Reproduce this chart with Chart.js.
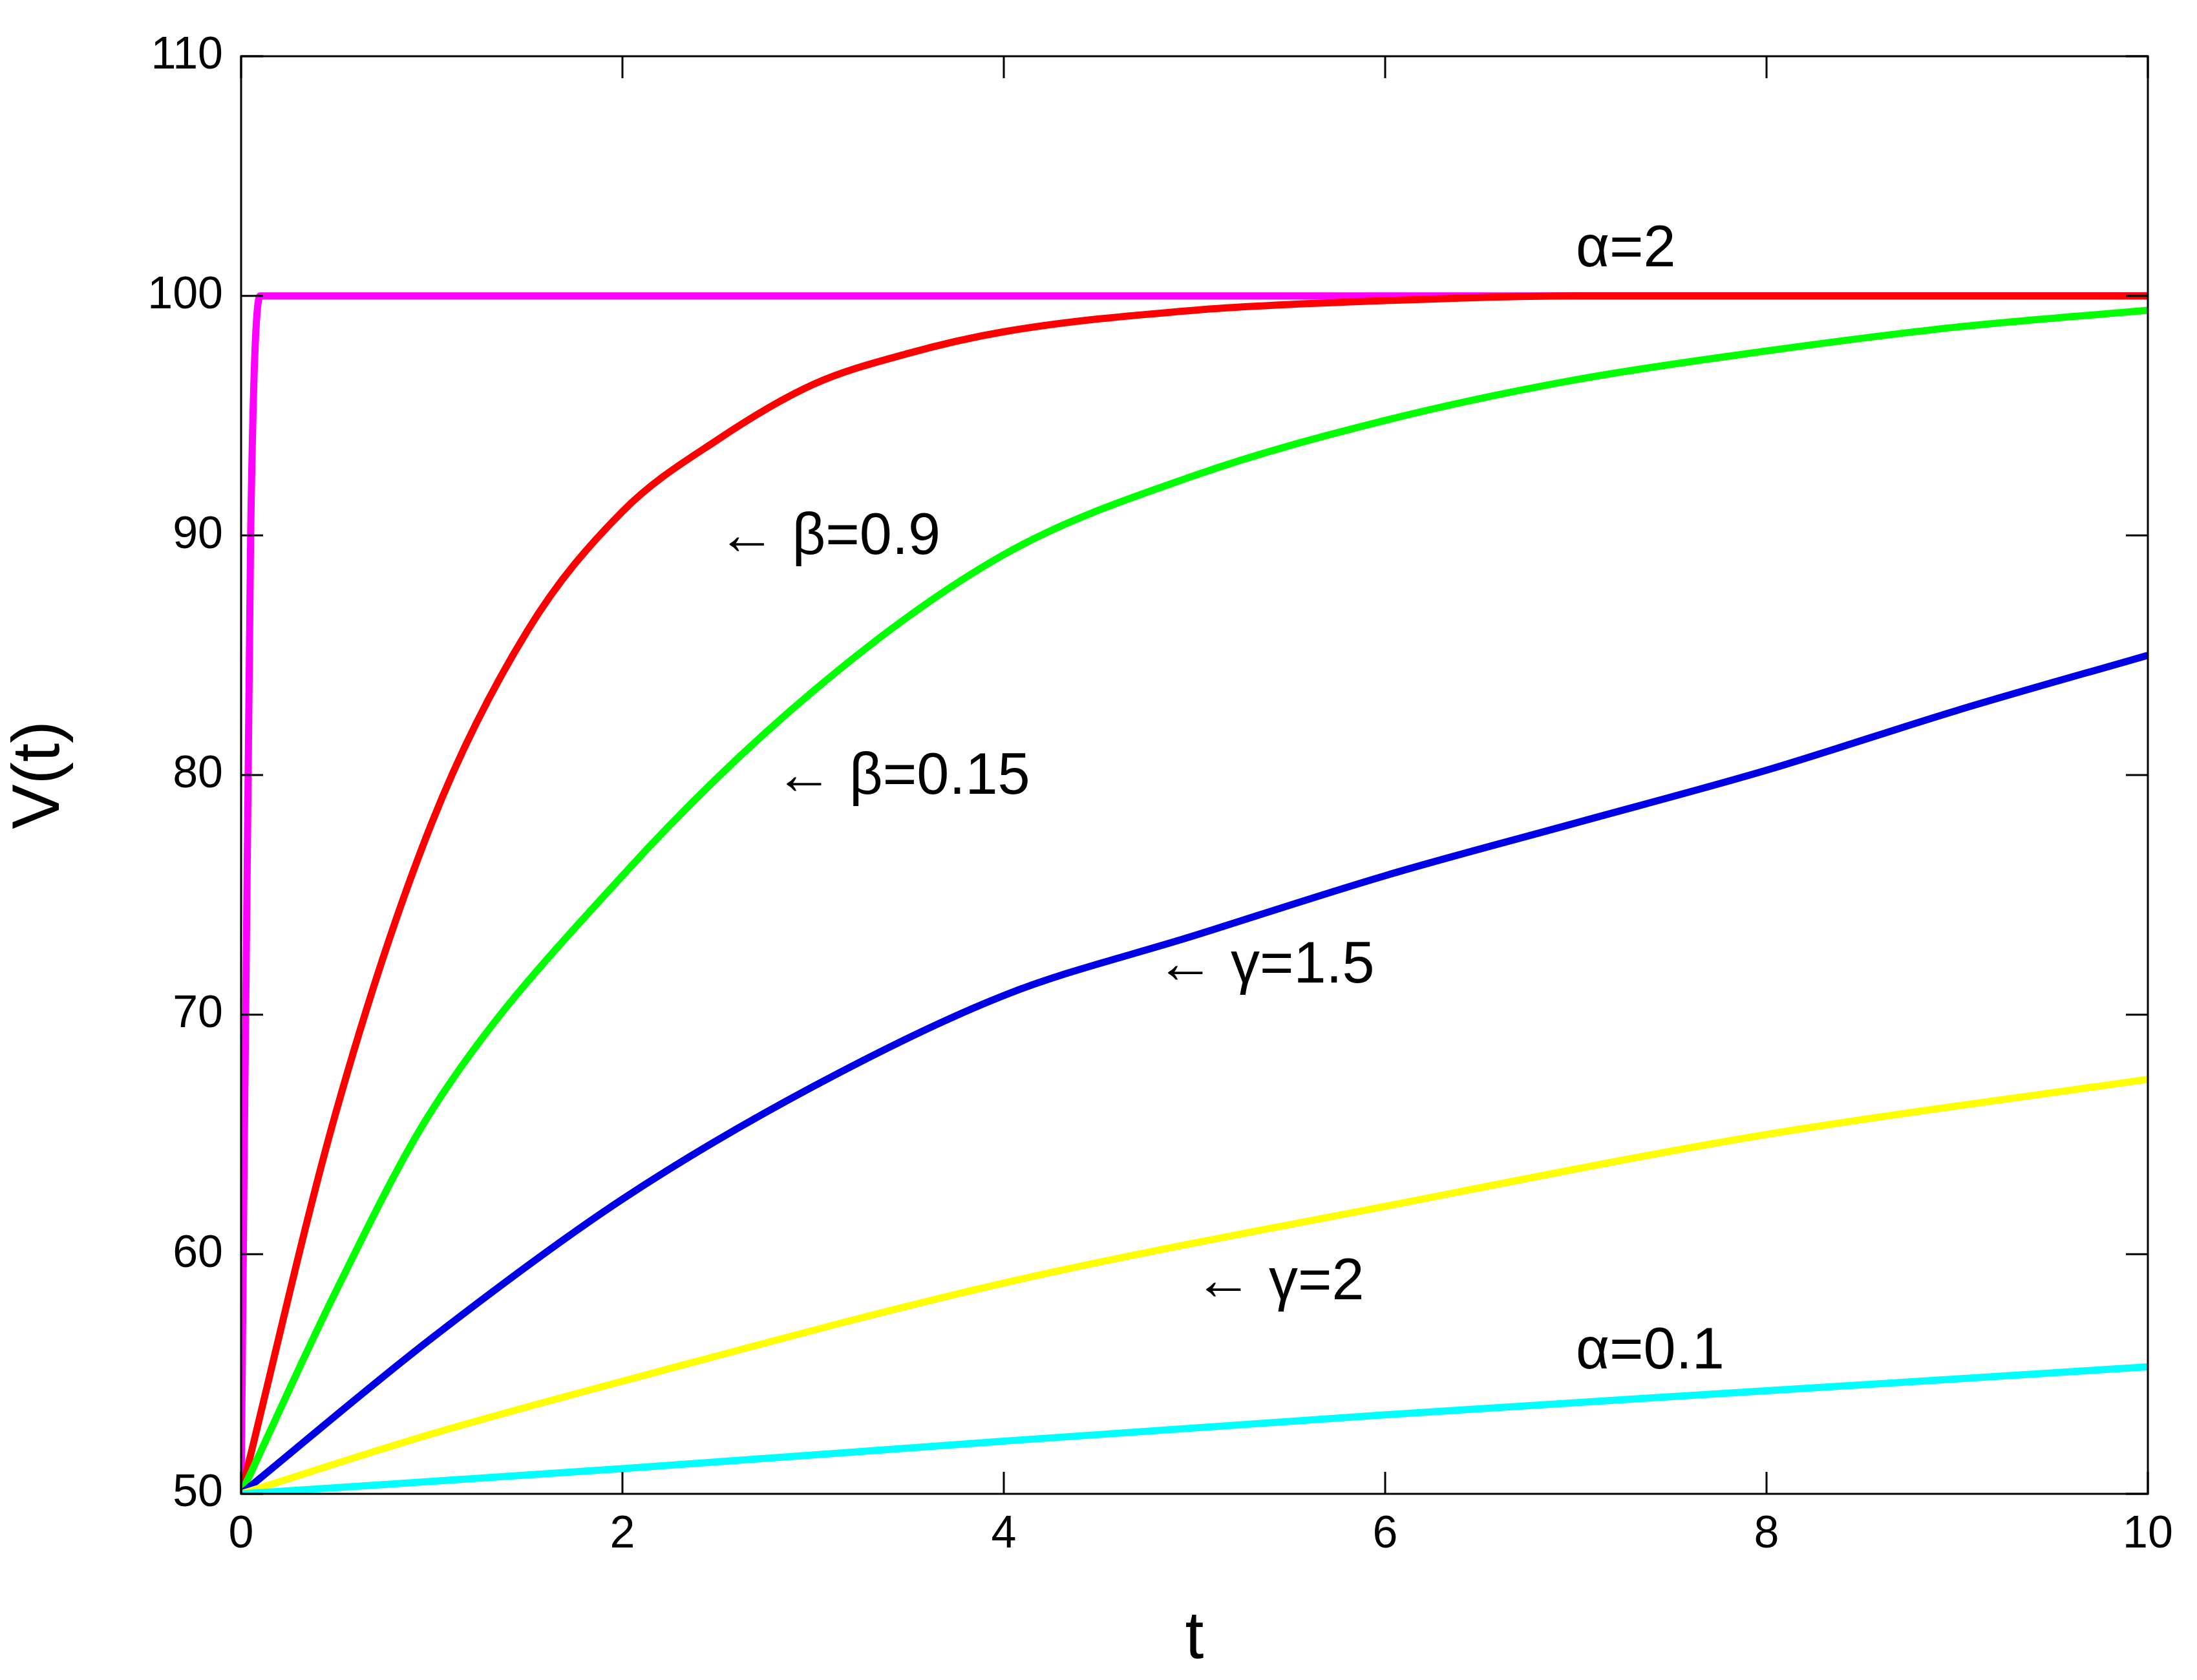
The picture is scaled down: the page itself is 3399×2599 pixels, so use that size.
<!DOCTYPE html>
<html>
<head>
<meta charset="utf-8">
<script src="https://cdn.jsdelivr.net/npm/chart.js@4"></script>
<style>
  html, body { margin: 0; padding: 0; background: #fff; }
</style>
</head>
<body>
<canvas id="chart" width="3399" height="2599"></canvas>
<script>
// values
const tRed = [0, 0.5, 1, 1.5, 2, 2.5, 3, 3.5, 4, 5, 6, 7, 8, 10];
const vRed = [50, 66, 78, 86, 91, 94, 96.3, 97.6, 98.5, 99.4, 99.8, 100, 100, 100];

const tGreen = [0, 0.5, 1, 2, 3, 4, 5, 6, 7, 8, 9, 10];
const vGreen = [50, 58.5, 66, 75.8, 83.5, 89.2, 92.5, 94.8, 96.5, 97.7, 98.7, 99.4];

const tBlue = [0, 1, 2, 3, 4, 5, 6, 7, 8, 9, 10];
const vBlue = [50, 56.5, 62.3, 67, 70.8, 73.3, 75.8, 78, 80.2, 82.7, 85];

const tYellow = [0, 1, 2, 4, 6, 8, 10];
const vYellow = [50, 52.5, 54.7, 58.8, 62, 65, 67.3];

const tCyan = [0, 2, 4, 6, 8, 10];
const vCyan = [50, 51.05, 52.2, 53.3, 54.3, 55.3];

const tMagenta = [0, 0.05, 0.1, 10];
const vMagenta = [50, 90, 100, 100];

const xTicks = [0, 2, 4, 6, 8, 10];
const yTicks = [50, 60, 70, 80, 90, 100, 110];

const labels = [
    { text: "α=2", t: 7.0, v: 101.9 },
    { text: "← β=0.9", t: 2.5, v: 89.9 },
    { text: "← β=0.15", t: 2.8, v: 79.9 },
    { text: "← γ=1.5", t: 4.8, v: 72 },
    { text: "← γ=2", t: 5.0, v: 58.8 },
    { text: "α=0.1", t: 7.0, v: 55.9 }
];

function pts(ts, vs) {
    return ts.map((t, i) => ({ x: t, y: vs[i] }));
}

function series(ts, vs, color) {
    return {
        data: pts(ts, vs),
        borderColor: color,
        borderWidth: 11,
        pointRadius: 0,
        tension: 0.4,
        cubicInterpolationMode: 'monotone',
        fill: false
    };
}

// MATLAB style box with inward ticks on all four sides, plus text labels
const framePlugin = {
    id: 'frame',
    afterDatasetsDraw(chart) {
        const ctx = chart.ctx;
        const a = chart.chartArea;
        const xs = chart.scales.x, ys = chart.scales.y;
        const len = 34;
        ctx.save();
        ctx.strokeStyle = '#000';
        ctx.lineWidth = 3;
        ctx.strokeRect(a.left, a.top, a.right - a.left, a.bottom - a.top);
        ctx.beginPath();
        xTicks.forEach(t => {
            const px = xs.getPixelForValue(t);
            ctx.moveTo(px, a.bottom); ctx.lineTo(px, a.bottom - len);
            ctx.moveTo(px, a.top); ctx.lineTo(px, a.top + len);
        });
        yTicks.forEach(v => {
            const py = ys.getPixelForValue(v);
            ctx.moveTo(a.left, py); ctx.lineTo(a.left + len, py);
            ctx.moveTo(a.right, py); ctx.lineTo(a.right - len, py);
        });
        ctx.stroke();

        ctx.fillStyle = '#000';
        ctx.font = '90px "Liberation Sans", Arial, sans-serif';
        ctx.textAlign = 'left';
        ctx.textBaseline = 'middle';
        labels.forEach(l => {
            ctx.fillText(l.text, xs.getPixelForValue(l.t), ys.getPixelForValue(l.v));
        });
        ctx.restore();
    }
};

const font = '"Liberation Sans", Arial, sans-serif';

new Chart(document.getElementById('chart'), {
    type: 'line',
    data: {
        datasets: [
            series(tCyan, vCyan, '#00ffff'),
            series(tYellow, vYellow, '#ffff00'),
            series(tBlue, vBlue, '#0000e6'),
            series(tGreen, vGreen, '#00ff00'),
            series(tRed, vRed, '#ff0000'),
            series(tMagenta, vMagenta, '#ff00ff')
        ]
    },
    plugins: [framePlugin],
    options: {
        responsive: false,
        animation: false,
        layout: { padding: { left: 0, right: 76, top: 87, bottom: 0 } },
        plugins: { legend: { display: false }, tooltip: { enabled: false } },
        scales: {
            x: {
                type: 'linear',
                min: 0, max: 10,
                afterFit: s => { s.height = 288; },
                afterBuildTicks: s => { s.ticks = xTicks.map(v => ({ value: v })); },
                grid: { display: false },
                border: { display: false },
                ticks: { color: '#000', font: { family: font, size: 70 }, padding: 14 },
                title: { display: true, text: 't', color: '#000', font: { family: font, size: 104 }, padding: 0 }
            },
            y: {
                min: 50, max: 110,
                afterFit: s => { s.width = 373; },
                afterBuildTicks: s => { s.ticks = yTicks.map(v => ({ value: v })); },
                grid: { display: false },
                border: { display: false },
                ticks: { color: '#000', font: { family: font, size: 70 }, padding: 20 },
                title: { display: true, text: 'V(t)', color: '#000', font: { family: font, size: 104 }, padding: 0 }
            }
        }
    }
});
</script>
</body>
</html>
